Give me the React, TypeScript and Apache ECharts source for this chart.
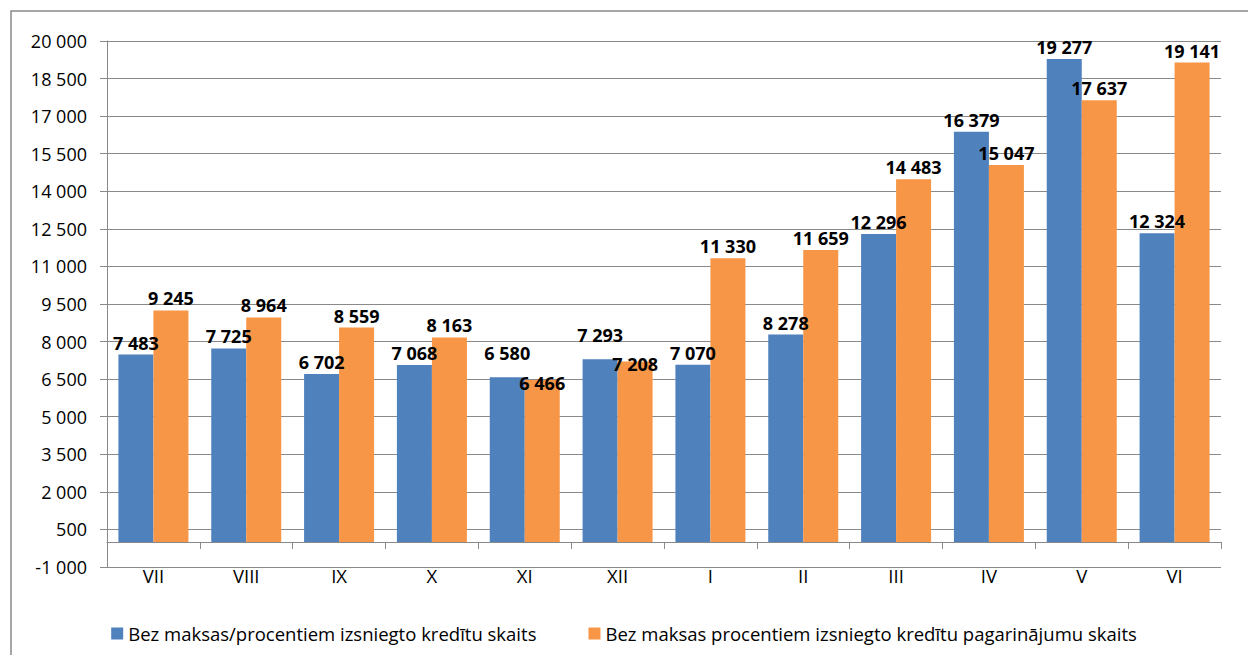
import React, { useEffect, useRef } from "react";
import * as echarts from "echarts";

const categories = ["VII", "VIII", "IX", "X", "XI", "XII", "I", "II", "III", "IV", "V", "VI"];
const seriesNames = [
  "Bez maksas/procentiem izsniegto kredītu skaits",
  "Bez maksas procentiem izsniegto kredītu pagarinājumu skaits",
];
const loans = [7483, 7725, 6702, 7068, 6580, 7293, 7070, 8278, 12296, 16379, 19277, 12324];
const extensions = [9245, 8964, 8559, 8163, 6466, 7208, 11330, 11659, 14483, 15047, 17637, 19141];
const yMin = -1000;
const yMax = 20000;
const yStep = 1500;

const FONT = "'Open Sans', 'Liberation Sans', sans-serif";
const GRAY = "#898989";

const fmt = (v: number) => {
  const s = Math.abs(Math.round(v)).toString().replace(/\B(?=(\d{3})+(?!\d))/g, " ");
  return (v < 0 ? "-" : "") + s;
};

// labels of the two bars in one category collide when their values are close
const isCrowded = (i: number) => Math.abs(loans[i] - extensions[i]) < 950;

export default function App() {
  const ref = useRef<HTMLDivElement>(null);
  useEffect(() => {
    if (!ref.current) return;
    const chart = echarts.init(ref.current, undefined, { renderer: "svg" });
    const labelCfg = {
      show: true,
      position: "top" as const,
      distance: 3,
      color: "#000",
      fontFamily: FONT,
      fontWeight: "bold" as const,
      fontSize: 18,
      formatter: (p: any) => fmt(p.value),
    };
    chart.setOption({
      animation: false,
      backgroundColor: "#fff",
      graphic: [
        {
          type: "rect",
          shape: { x: 11, y: 11, width: 1300, height: 700 },
          style: { fill: "none", stroke: GRAY, lineWidth: 1.5 },
          silent: true,
          z: -1,
        },
      ],
      grid: { left: 107, right: 27, top: 41, bottom: 88, containLabel: false },
      legend: {
        data: seriesNames,
        left: "center",
        top: 619,
        icon: "rect",
        itemWidth: 12,
        itemHeight: 12,
        itemGap: 52,
        textStyle: { fontFamily: FONT, fontSize: 18.5, color: "#000" },
      },
      xAxis: [
        {
          type: "category",
          data: categories,
          boundaryGap: true,
          axisLine: { show: true, onZero: true, lineStyle: { color: GRAY, width: 1 } },
          axisTick: { show: true, length: 7, inside: false, lineStyle: { color: GRAY } },
          axisLabel: { show: false },
          splitLine: { show: false },
        },
        {
          type: "category",
          data: categories,
          position: "bottom",
          axisLine: { show: false, onZero: false },
          axisTick: { show: false },
          axisLabel: {
            show: true,
            margin: -1,
            color: "#000",
            fontFamily: FONT,
            fontSize: 18.5,
          },
          splitLine: { show: false },
        },
      ],
      yAxis: {
        type: "value",
        min: yMin,
        max: yMax,
        interval: yStep,
        axisLine: { show: true, lineStyle: { color: GRAY } },
        axisTick: { show: true, length: 7, lineStyle: { color: GRAY } },
        axisLabel: {
          margin: 20,
          color: "#000",
          fontFamily: FONT,
          fontSize: 18,
          formatter: (v: number) => fmt(v),
        },
        splitLine: { show: true, lineStyle: { color: GRAY, width: 1 } },
      },
      series: [
        {
          name: seriesNames[0],
          type: "bar",
          xAxisIndex: 0,
          data: loans,
          barWidth: 35,
          barGap: "0%",
          itemStyle: { color: "#4F81BD" },
          label: labelCfg,
          labelLayout: (p: any) => (isCrowded(p.dataIndex) ? { dy: -12 } : {}),
        },
        {
          name: seriesNames[1],
          type: "bar",
          xAxisIndex: 0,
          data: extensions,
          barWidth: 35,
          barGap: "0%",
          itemStyle: { color: "#F79646" },
          label: labelCfg,
          labelLayout: (p: any) => (isCrowded(p.dataIndex) ? { dy: 15 } : {}),
        },
      ],
    });
    return () => chart.dispose();
  }, []);
  return (
    <div
      ref={ref}
      style={{ position: "absolute", left: 0, top: 0, width: 1248, height: 655 }}
    />
  );
}
